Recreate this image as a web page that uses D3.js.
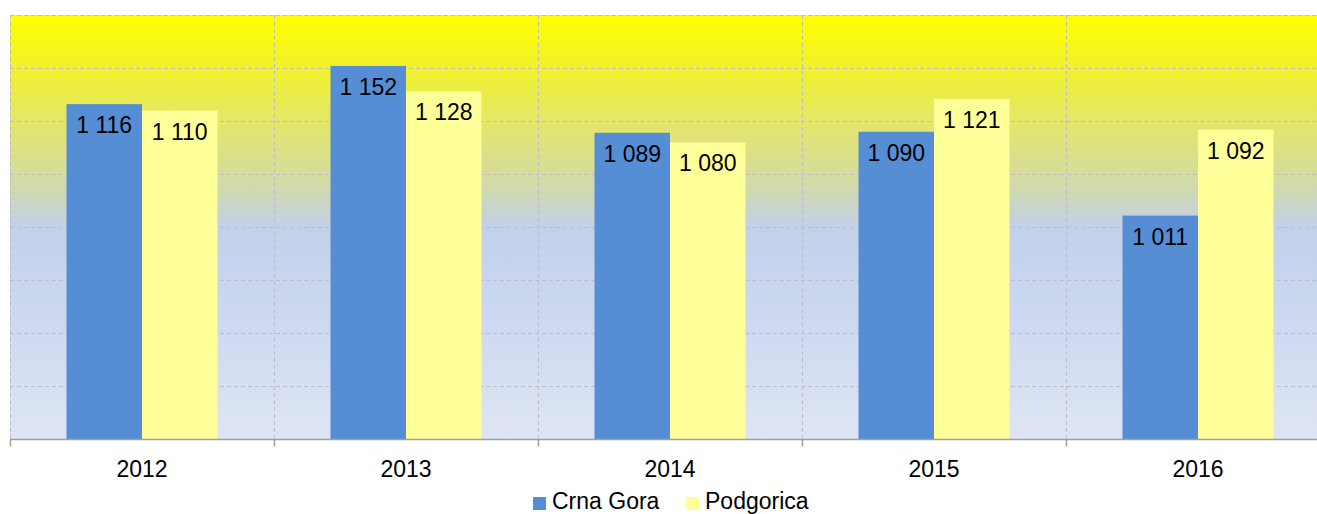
<!DOCTYPE html>
<html><head><meta charset="utf-8">
<script src="https://cdn.jsdelivr.net/npm/d3@7"></script>
<style>body{margin:0;background:#fff}svg{display:block}text{font-family:"Liberation Sans",Arial,sans-serif}</style>
</head><body><svg id="c" width="1317" height="514"></svg>
<script>
const categories = ["2012","2013","2014","2015","2016"];
const seriesNames = ["Crna Gora","Podgorica"];
const crnaGora = [1116,1152,1089,1090,1011];
const podgorica = [1110,1128,1080,1121,1092];
const yTicks = [800,850,900,950,1000,1050,1100,1150,1200];
const colors = ["#558ED5","#FFFF99"];

const svg = d3.select("#c");
const L=10, R=1330, T=15, B=439.5;
const x0 = d3.scaleBand().domain(categories).range([L,R]).paddingInner(0).paddingOuter(0);
const x1 = d3.scaleBand().domain(seriesNames).range([0,x0.bandwidth()]).paddingInner(0).paddingOuter(0.748);
const y = d3.scaleLinear().domain([800,1200]).range([B,T]);

const defs = svg.append("defs");
const g = defs.append("linearGradient").attr("id","bg").attr("x1",0).attr("y1",0).attr("x2",0).attr("y2",1);
[[0,"#FFFF00"],[0.12,"#F2F22A"],[0.25,"#E4E768"],[0.37,"#D6DD98"],[0.45,"#C9D5C8"],[0.5,"#C2D0EA"],[0.75,"#CFDAF1"],[1,"#DEE5F4"]]
  .forEach(([o,c])=>g.append("stop").attr("offset",o).attr("stop-color",c));

svg.append("rect").attr("x",L).attr("y",T).attr("width",R-L).attr("height",B-T).attr("fill","url(#bg)");

// horizontal gridlines
svg.append("g").selectAll("line").data(yTicks.slice(1)).join("line")
  .attr("x1",L).attr("x2",R).attr("y1",d=>Math.round(y(d))+0.5).attr("y2",d=>Math.round(y(d))+0.5)
  .attr("stroke","#BDBDC8").attr("stroke-dasharray","4,3");
// vertical gridlines at category boundaries
svg.append("g").selectAll("line").data(categories).join("line")
  .attr("x1",d=>Math.round(x0(d))+0.5).attr("x2",d=>Math.round(x0(d))+0.5).attr("y1",T).attr("y2",B)
  .attr("stroke","#BDBDC8").attr("stroke-dasharray","4,3");

const data = categories.map((c,i)=>({cat:c, vals:[{s:seriesNames[0],v:crnaGora[i],c:colors[0]},{s:seriesNames[1],v:podgorica[i],c:colors[1]}]}));
const grp = svg.append("g").selectAll("g").data(data).join("g").attr("transform",d=>`translate(${x0(d.cat)},0)`);
grp.selectAll("rect").data(d=>d.vals).join("rect")
  .attr("x",d=>x1(d.s)).attr("width",x1.bandwidth()).attr("y",d=>y(d.v)).attr("height",d=>B-y(d.v)).attr("fill",d=>d.c);
grp.selectAll("text").data(d=>d.vals).join("text")
  .attr("x",d=>x1(d.s)+x1.bandwidth()/2).attr("y",d=>y(d.v)+29).attr("text-anchor","middle")
  .attr("font-size","23px").attr("fill","#000").text(d=>d3.format(",")(d.v).replace(","," "));

// x axis
const ax = svg.append("g").attr("transform",`translate(0,${B})`).call(d3.axisBottom(x0).tickSize(0).tickPadding(0));
ax.select(".domain").remove();
ax.selectAll("text").attr("font-size","23px").attr("fill","#000").attr("dy",0).attr("y",37.5)
  .style("font-family",'"Liberation Sans",Arial,sans-serif');
svg.append("line").attr("x1",L).attr("x2",R).attr("y1",B).attr("y2",B).attr("stroke","#A0A0A0").attr("stroke-width",1.5);
svg.append("g").selectAll("line").data(categories).join("line")
  .attr("x1",d=>Math.round(x0(d))+0.5).attr("x2",d=>Math.round(x0(d))+0.5).attr("y1",B).attr("y2",B+7)
  .attr("stroke","#A0A0A0").attr("stroke-width",1.5);

// legend
const leg = svg.append("g");
const legX = [533, 686];
seriesNames.forEach((s,i)=>{
  leg.append("rect").attr("x",legX[i]).attr("y",497).attr("width",13).attr("height",13).attr("fill",colors[i]);
  leg.append("text").attr("x",legX[i]+19).attr("y",509).attr("font-size","23px").attr("fill","#000").text(s);
});
</script></body></html>
